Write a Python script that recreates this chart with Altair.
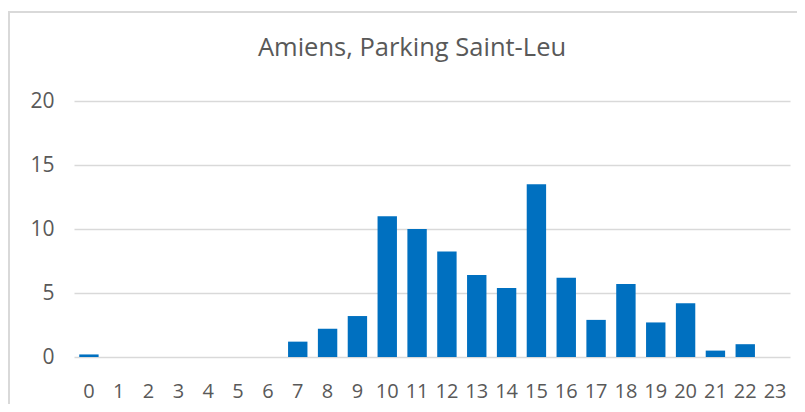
import altair as alt
import pandas as pd

hours = [str(h) for h in range(24)]
values = [0.2, 0, 0, 0, 0, 0, 0, 1.2, 2.2, 3.2, 11.0, 10.0, 8.25, 6.4, 5.4, 13.5,
          6.2, 2.9, 5.7, 2.7, 4.2, 0.5, 1.0, 0]
title_text = "Amiens, Parking Saint-Leu"

df = pd.DataFrame({"hour": hours, "value": values})
FONT = "Open Sans"
GRAY = "#595959"

bars = alt.Chart(df).mark_bar(color="#0070C0").encode(
    x=alt.X("hour:N", sort=hours, title=None,
            scale=alt.Scale(paddingInner=0.35, paddingOuter=0.175),
            axis=alt.Axis(labelAngle=0, domain=False, ticks=False, labelPadding=24,
                          labelFontSize=20, labelColor=GRAY, labelFont=FONT)),
    y=alt.Y("value:Q", title=None,
            scale=alt.Scale(domain=[0, 20]),
            axis=alt.Axis(values=[0, 5, 10, 15, 20], domain=False, ticks=False,
                          labelPadding=20, labelFontSize=21, labelColor=GRAY,
                          labelFont=FONT, gridColor="#d9d9d9", gridWidth=1.3)),
)

border = alt.Chart(pd.DataFrame({"a": [0]})).mark_rect(
    fill=None, stroke="#d9d9d9", strokeWidth=2
).encode(x=alt.value(-65), x2=alt.value(740), y=alt.value(-89), y2=alt.value(340))

chart = alt.layer(border, bars).properties(
    width=716, height=256, autosize="none",
    padding={"left": 66, "top": 93, "right": 7, "bottom": 47},
    title=alt.TitleParams(title_text, fontSize=25.5, font=FONT, color=GRAY,
                          fontWeight="normal", anchor="middle", frame="group",
                          dx=-20, offset=-50),
).configure_view(stroke=None)

chart.save("out.html", embed_options={"renderer": "svg", "actions": False})
